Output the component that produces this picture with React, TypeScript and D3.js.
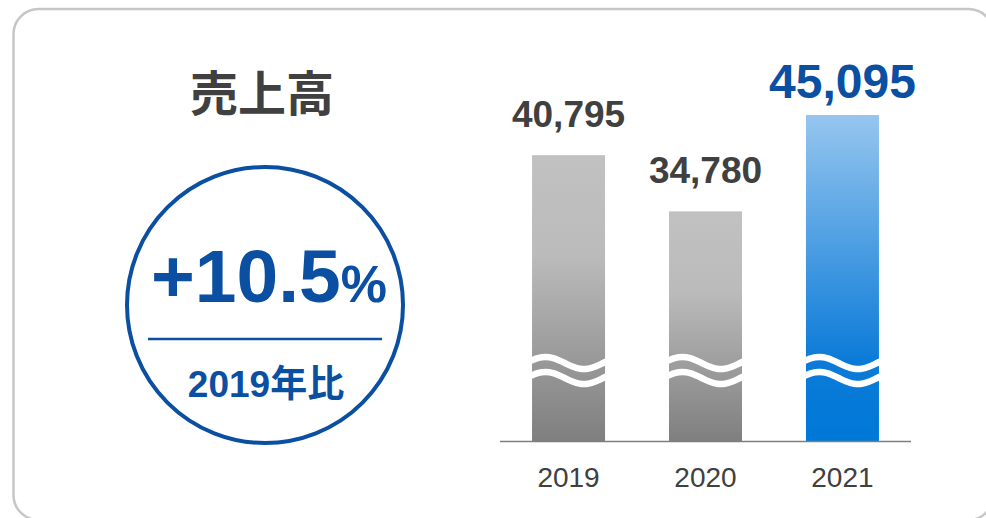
import React from 'react';
import * as d3 from 'd3';

const years = ['2019', '2020', '2021'];
const sales = [40795, 34780, 45095];
const labels = ['40,795', '34,780', '45,095'];
const title = '売上高';
const growth = '+10.5';
const growthNote = '2019年比';

const W = 986;
const H = 518;
const BLUE = '#0a4fa1';
const DARK = '#404040';
const FONT = '"Liberation Sans", Arial, "Noto Sans CJK JP", sans-serif';

// wavy break mark, one period across the bar
const wave = (x0: number, w: number, yc: number) => {
  const pts: [number, number][] = d3.range(0, 1.0001, 0.05).map((t) => [
    x0 - 2 + t * (w + 4),
    yc - 6 * Math.sin(2 * Math.PI * (t + 0.05)),
  ]);
  return d3.line().curve(d3.curveCatmullRom)(pts) || '';
};

const App = () => {
  const x = d3.scaleBand().domain(years).range([500, 911]).paddingInner(0.467).paddingOuter(0.234);
  // broken axis: the bars start well above zero
  const y = d3.scaleLinear().domain([10200, 45095]).range([441, 115]);
  const last = years.length - 1;

  return (
    <svg width={W} height={H} style={{ position: 'absolute', left: 0, top: 0, fontFamily: FONT }}>
      <defs>
        <linearGradient id="gGray" x1="0" y1="0" x2="0" y2="1">
          <stop offset="0" stopColor="#c1c1c1" />
          <stop offset="0.35" stopColor="#bbbbbb" />
          <stop offset="1" stopColor="#7f7f7f" />
        </linearGradient>
        <linearGradient id="gBlue" x1="0" y1="0" x2="0" y2="1">
          <stop offset="0" stopColor="#96c6ef" />
          <stop offset="0.75" stopColor="#0c7bd8" />
          <stop offset="1" stopColor="#0078d7" />
        </linearGradient>
        {years.map((yr) => (
          <clipPath id={'clip' + yr} key={yr}>
            <rect x={x(yr)} y={0} width={x.bandwidth()} height={H} />
          </clipPath>
        ))}
      </defs>

      <rect x={13.5} y={9} width={980} height={511} rx={25} fill="#fff" stroke="#c6c6c6" strokeWidth={2.5} />

      <text x={262} y={111} textAnchor="middle" fontSize={48} fontWeight="bold" fill={DARK}
        fontFamily='"Noto Sans CJK JP", sans-serif'>{title}</text>

      <circle cx={265} cy={305} r={138} fill="none" stroke={BLUE} strokeWidth={4} />
      <text x={269} y={302} textAnchor="middle" fill={BLUE} fontWeight="bold">
        <tspan fontSize={75}>{growth}</tspan>
        <tspan fontSize={52}>%</tspan>
      </text>
      <line x1={148} x2={382} y1={339} y2={339} stroke={BLUE} strokeWidth={2.5} />
      <text x={266} y={397} textAnchor="middle" fontSize={37} fontWeight="bold" fill={BLUE}>{growthNote}</text>

      {years.map((yr, i) => {
        const bx = x(yr) as number;
        const bw = x.bandwidth();
        const top = y(sales[i]);
        const hi = i === last;
        return (
          <g key={yr}>
            <rect x={bx} y={top} width={bw} height={y.range()[0] - top} fill={hi ? 'url(#gBlue)' : 'url(#gGray)'} />
            <g clipPath={`url(#clip${yr})`} fill="none" stroke="#fff" strokeWidth={6.5}>
              <path d={wave(bx, bw, 363)} />
              <path d={wave(bx, bw, 378)} />
            </g>
            <text x={bx + bw / 2} y={top - (hi ? 17 : 28)} textAnchor="middle" fontWeight="bold"
              fontSize={hi ? 48 : 37} fill={hi ? BLUE : DARK}>{labels[i]}</text>
            <text x={bx + bw / 2} y={487} textAnchor="middle" fontSize={28} fill={DARK}>{yr}</text>
          </g>
        );
      })}

      <line x1={500} x2={911} y1={441.5} y2={441.5} stroke="#7f7f7f" strokeWidth={1.5} />
    </svg>
  );
};

export default App;
